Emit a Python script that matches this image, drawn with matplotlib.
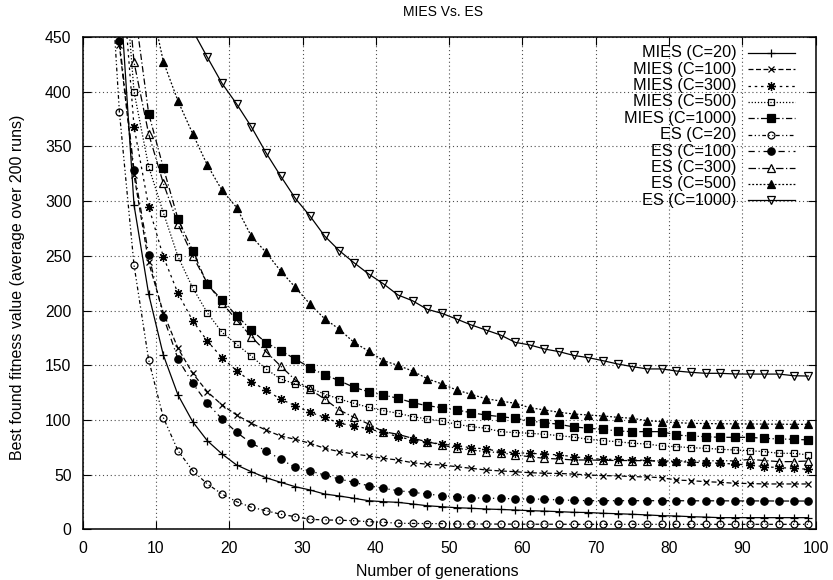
import numpy as np
import matplotlib
matplotlib.use("Agg")
import matplotlib.pyplot as plt

plt.rcParams['font.family'] = ['Liberation Sans', 'DejaVu Sans']

# generations at which the averages were logged (odd generations)
generations = np.arange(3, 100, 2)
nan = np.nan

mies_c20 = [nan, 500, 296.5, 215, 159.4, 122.9, 98.5, 81.1, 69, 58.9, 52.8, 47.3, 43.1, 39.1,
            36.1, 32.4, 30.6, 28.5, 26.3, 25.4, 24.8, 23.3, 21.7, 20.8, 19.9, 19.4, 18.7, 18.3,
            17.8, 17.2, 16.8, 16.3, 15.7, 15.5, 14.8, 14.4, 13.9, 13.3, 12.6, 12.3, 11.7, 11.3,
            10.8, 10.8, 10.8, 10.8, 10.8, 10.8, 10.8]
mies_c100 = [620, 442.7, 324, 244, 198, 165.5, 142.7, 125.9, 113.8, 104.6, 97, 90.9, 85.4, 82.4,
             78.8, 74.2, 71.1, 69, 67.2, 65, 63.5, 61, 59.6, 58.9, 57.4, 55.9, 54.4, 53.5,
             52.8, 51.9, 51.4, 51.2, 50.6, 49.8, 49.2, 49.0, 48.3, 48.0, 47.3, 45.2, 44.6, 43.7,
             43.1, 42.2, 42.0, 41.6, 41.6, 41.6, 41.6]
mies_c300 = [nan, 540, 368, 295, 249.3, 215.8, 190.8, 172.2, 157, 145.1, 135, 127.5, 119, 113.1,
             107.1, 102.5, 97, 94.8, 91.8, 88.8, 84.8, 81.8, 79.7, 78.1, 76.6, 74.7, 73.6, 71.1,
             70.2, 69.6, 69, 68.1, 66.5, 65, 64.1, 64.1, 63.5, 63.2, 62, 62, 61.5, 61,
             60.5, 59.8, 58.9, 57.4, 56.5, 55.9, 55]
mies_c500 = [nan, 570, 400, 331.5, 289.5, 249.3, 220.8, 198, 180.2, 169.2, 158.5, 146.7, 137.5, 133,
             129, 123.8, 119.2, 115.3, 111.6, 108.6, 106.2, 103.1, 101, 99.1, 96.1, 94, 92.5, 89.4,
             88.5, 87.9, 87, 85.7, 84.4, 82.4, 81.1, 80.2, 78.8, 78.1, 76.3, 75.7, 74.7, 74.2,
             73.3, 72.6, 72, 71.1, 69.6, 69.6, 68.1]
mies_c1000 = [nan, nan, 480, 380, 330.6, 283.7, 254.8, 224, 209.7, 195.4, 182.3, 170.7, 163.4, 155.8,
              147.9, 141.2, 136, 129.9, 125.9, 122.9, 119.9, 115.9, 113.1, 111.3, 109.2, 106.7, 104.6, 103.1,
              101.6, 99.1, 97.6, 96.1, 93.7, 92.5, 91.5, 90, 89.4, 89.4, 89.4, 86.3, 85.4, 84.8,
              84.2, 84.2, 84.2, 83.3, 82.7, 82.4, 81.8]
es_c20 = [600, 381.8, 241.6, 154.9, 102.2, 72, 53.7, 41.6, 32.4, 25.4, 20.3, 17.2, 13.9, 11.7,
          9.3, 8.7, 8.5, 8, 7.1, 6.6, 5.7, 5.5, 5.4, 5.3, 5.0, 5.0, 5.0, 4.9,
          4.9, 4.8, 4.8, 4.8, 4.7, 4.7, 4.7, 4.7, 4.7, 4.7, 4.7, 4.7, 4.7, 4.7,
          4.7, 4.7, 4.7, 4.7, 4.7, 4.7, 4.7]
es_c100 = [640, 446.6, 328.5, 250.8, 194.4, 155.8, 133.6, 115.3, 101, 88.8, 78.8, 72, 64.1, 56.8,
           53.5, 49.8, 46.1, 43.1, 40, 37.6, 35.5, 34, 32.4, 30.9, 30, 29.1, 28.5, 28.5,
           27.9, 27.9, 27.6, 27, 26.6, 26.3, 26.3, 26.3, 26.3, 26.3, 26.3, 26.3, 26.2, 26.2,
           26.2, 26.1, 26.1, 26.1, 26.0, 26.0, 26.0]
es_c300 = [nan, 580, 427, 361.4, 316.3, 279, 250, 225, 207, 191.4, 176.2, 162.5, 149.4, 136.6,
           128.1, 119.2, 109.2, 102.5, 96.4, 89.4, 87, 83.3, 80.2, 77.2, 74.2, 72.6, 71.1, 70.2,
           68.1, 66.5, 65, 64.4, 63.5, 63.5, 63.2, 63, 63, 62.8, 62.6, 62.6, 62.6, 62.6,
           63, 62.6, 64.1, 63, 62, 62, 62.6]
es_c500 = [nan, nan, nan, 490, 427.5, 391.5, 361.7, 333, 310, 294.2, 268, 253.3, 236.2, 221.3,
           206, 192.6, 183, 171, 163, 154.3, 150, 144.8, 137.8, 133, 127.5, 123.5, 119.5, 117.4,
           115.3, 111.3, 109.2, 107.1, 105.5, 104.6, 103.7, 102.5, 101.6, 99.4, 98.5, 97.6, 97, 96.8,
           96.6, 96.5, 96.4, 96.3, 96.2, 96.1, 96.1]
es_c1000 = [nan, nan, nan, nan, nan, nan, 456, 431.5, 407.7, 388.8, 368, 344.3, 323, 302.6,
            286.5, 268.2, 254.8, 243.8, 233.5, 224.6, 214.3, 209, 201.2, 197.5, 192.3, 186.9, 182.3, 177.7,
            171, 168.6, 164.9, 162.5, 159, 157, 154.2, 151.2, 148.8, 146.7, 146.7, 144.8, 143.6, 142.7,
            142.7, 142.1, 142, 142, 142, 140.5, 140.2]

labels = ['MIES (C=20)', 'MIES (C=100)', 'MIES (C=300)', 'MIES (C=500)', 'MIES (C=1000)',
          'ES (C=20)', 'ES (C=100)', 'ES (C=300)', 'ES (C=500)', 'ES (C=1000)']
series = [mies_c20, mies_c100, mies_c300, mies_c500, mies_c1000,
          es_c20, es_c100, es_c300, es_c500, es_c1000]

# (dash pattern, marker, marker size, filled)
styles = [
    ((), '+', 6, True),
    ((4, 2), 'x', 5, True),
    ((2, 3), (8, 2, 0), 6.5, True),
    ((1, 1.5), 's', 5, False),
    ((5, 2, 1, 2), 's', 5.3, True),
    ((3, 2, 1, 2, 1, 2), 'o', 5, False),
    ((5, 3, 1, 3), 'o', 5.3, True),
    ((6, 2, 1, 2), '^', 5.5, False),
    ((1.5, 1.5), '^', 5.5, True),
    ((), 'v', 5.5, False),
]


def line_kw(style):
    dashes, marker, ms, filled = style
    kw = dict(color='black', lw=0.9, marker=marker, ms=ms, mew=0.9,
              mec='black', mfc='black' if filled else 'none')
    if dashes:
        kw['dashes'] = dashes
    else:
        kw['ls'] = '-'
    return kw


fig = plt.figure(figsize=(8.33, 5.8), dpi=100)
ax = fig.add_axes([0.0993, 0.0871, 0.8799, 0.8491])

for vals, style in zip(series, styles):
    ax.plot(generations, vals, **line_kw(style))

ax.set_xlim(0, 100)
ax.set_ylim(0, 450)
ax.set_xticks(range(0, 101, 10))
ax.set_yticks(range(0, 451, 50))
ax.tick_params(direction='in', top=True, right=True, length=6, width=0.8,
               labelsize=11.3, pad=8)
ax.grid(True, color='0.3', lw=0.8, ls=(0, (1, 2.5)))
for sp in ax.spines.values():
    sp.set_linewidth(1.1)

# gnuplot-style key: right-justified text, sample line to the right
x_text, x0, x1 = 0.892, 0.9076, 0.9718
y_first, dy = 0.968, 0.0333
for i, (lab, style) in enumerate(zip(labels, styles)):
    y = y_first - i * dy
    ax.text(x_text, y, lab, transform=ax.transAxes, ha='right', va='center', fontsize=11.7)
    ax.plot([x0, (x0 + x1) / 2, x1], [y, y, y], transform=ax.transAxes,
            markevery=[1], clip_on=False, **line_kw(style))

fig.text(0.532, 0.979, 'MIES Vs. ES', ha='center', va='center', fontsize=10)
fig.text(0.525, 0.014, 'Number of generations', ha='center', va='center', fontsize=11.5)
fig.text(0.021, 0.505, 'Best found fitness value (average over 200 runs)', ha='center',
         va='center', rotation=90, fontsize=11.5)

fig.savefig('out.png', dpi=100)
